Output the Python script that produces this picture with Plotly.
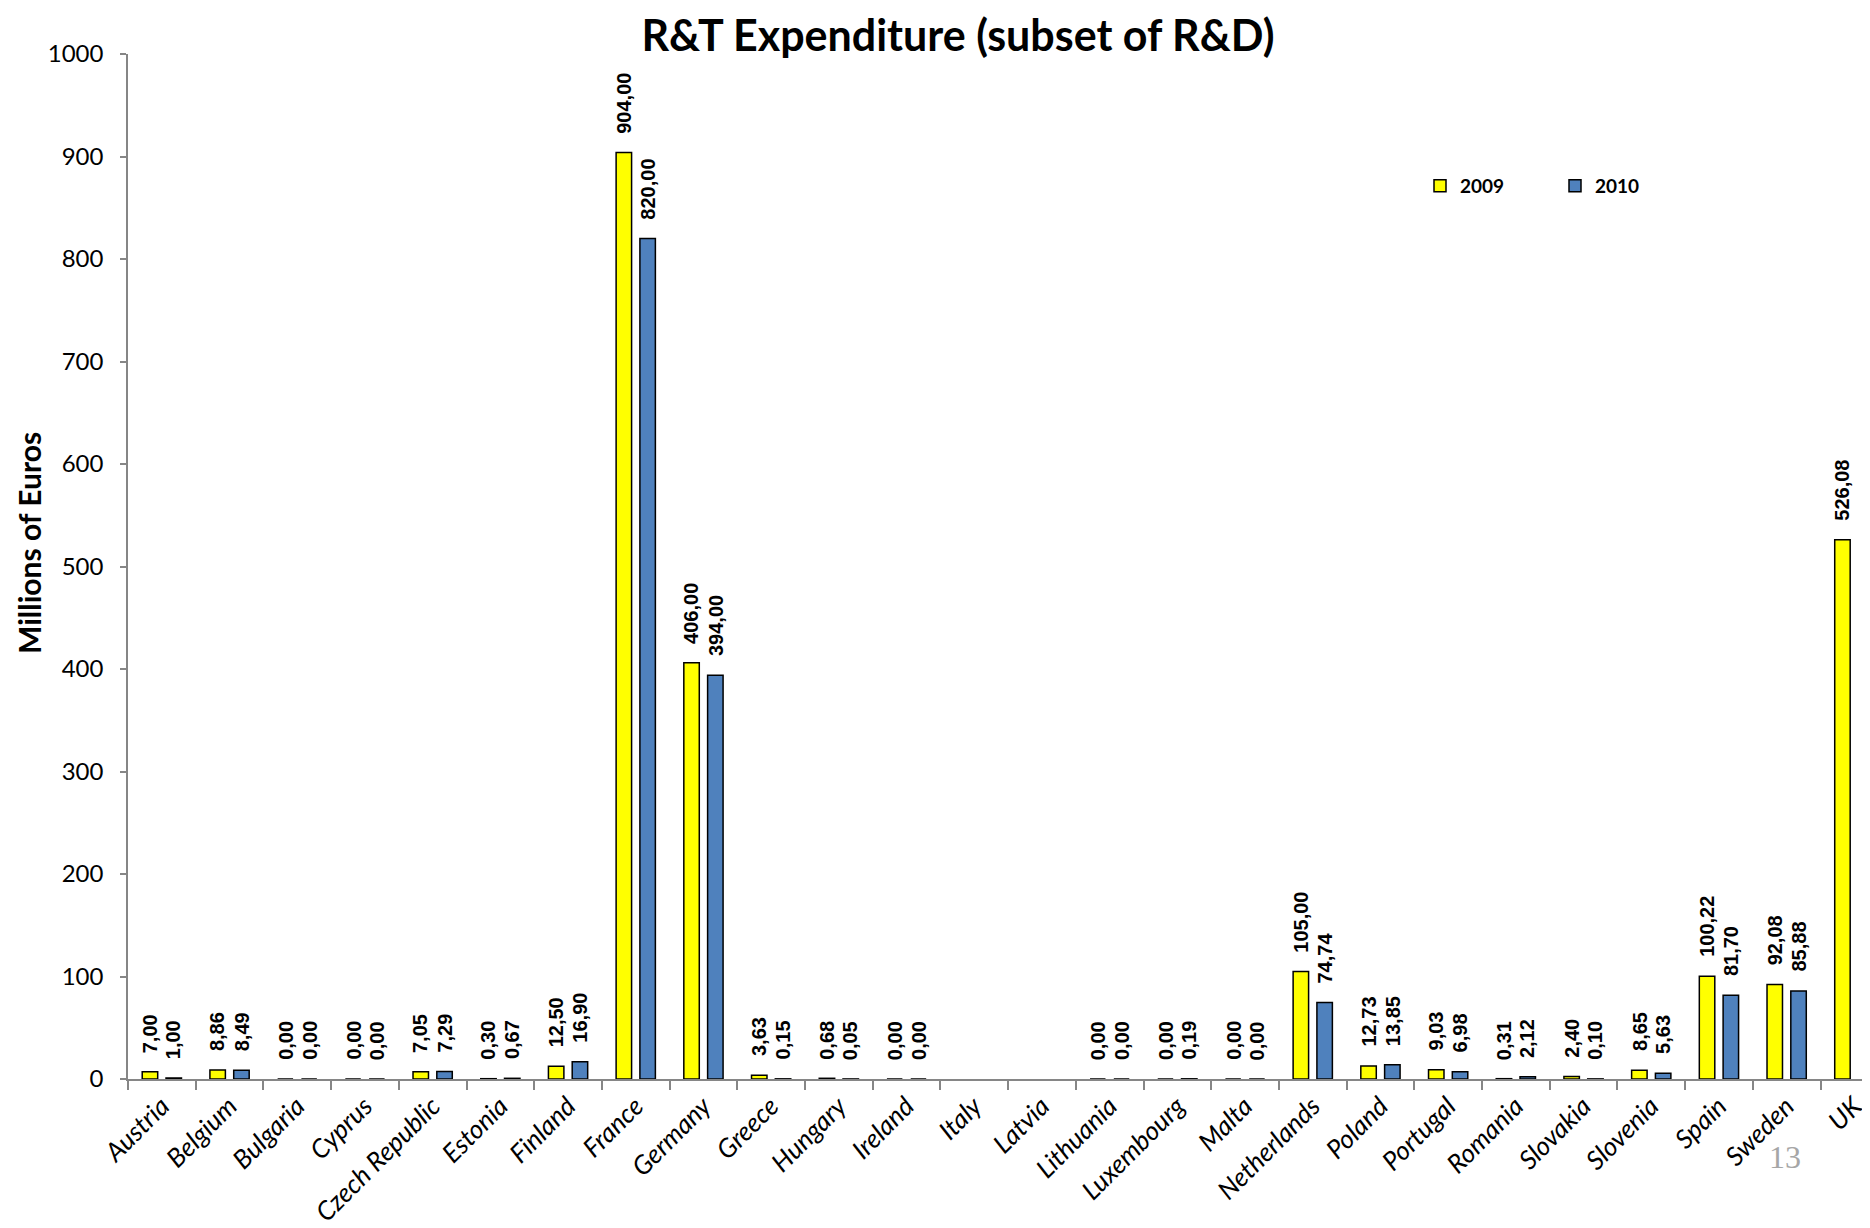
import plotly.graph_objects as go

countries = ["Austria", "Belgium", "Bulgaria", "Cyprus", "Czech Republic", "Estonia", "Finland",
             "France", "Germany", "Greece", "Hungary", "Ireland", "Italy", "Latvia", "Lithuania",
             "Luxembourg", "Malta", "Netherlands", "Poland", "Portugal", "Romania", "Slovakia",
             "Slovenia", "Spain", "Sweden", "UK"]
values_2009 = [7.00, 8.86, 0.00, 0.00, 7.05, 0.30, 12.50, 904.00, 406.00, 3.63, 0.68, 0.00, None, None,
               0.00, 0.00, 0.00, 105.00, 12.73, 9.03, 0.31, 2.40, 8.65, 100.22, 92.08, 526.08]
values_2010 = [1.00, 8.49, 0.00, 0.00, 7.29, 0.67, 16.90, 820.00, 394.00, 0.15, 0.05, 0.00, None, None,
               0.00, 0.19, 0.00, 74.74, 13.85, 6.98, 2.12, 0.10, 5.63, 81.70, 85.88, None]
y_ticks = [0, 100, 200, 300, 400, 500, 600, 700, 800, 900, 1000]

OFF = 8  # page body margin
W, H = 1870 - OFF, 1228 - OFF
ML, MR, MT, MB = 128 - OFF, 0, 54 - OFF, 1228 - 1079
cat_px = 67.7
plot_w = W - ML - MR
plot_h = H - MT - MB
x_max = -0.5 + plot_w / cat_px

CAL = "Lato, 'Open Sans', sans-serif"
ARIALB = "'Liberation Sans', Arial, sans-serif"

def fmt(v):
    return f"{v:.2f}".replace(".", ",")

fig = go.Figure()
fig.add_trace(go.Bar(name="2009", x=countries, y=values_2009,
                     marker=dict(color="#FFFF00", line=dict(color="#000000", width=1.5))))
fig.add_trace(go.Bar(name="2010", x=countries, y=values_2010,
                     marker=dict(color="#4F81BD", line=dict(color="#000000", width=1.5))))

slot = cat_px * (1 - 0.297) / 2
annotations = []
for vals, shift in ((values_2009, -slot / 2), (values_2010, slot / 2)):
    for c, v in zip(countries, vals):
        if v is None:
            continue
        annotations.append(dict(x=c, y=v, xref="x", yref="y", text=fmt(v), textangle=-90,
                                showarrow=False, xanchor="center", yanchor="bottom",
                                xshift=shift, yshift=17,
                                font=dict(family=ARIALB, size=20, color="#000000", weight="bold")))

# y-axis title
annotations.append(dict(x=(29 - 128) / plot_w, y=1 - (543 - 54) / plot_h,
                        xref="paper", yref="paper", text="<b>Millions of Euros</b>",
                        textangle=-90, showarrow=False, xanchor="center", yanchor="middle",
                        font=dict(family=CAL, size=30, color="#000000")))

annotations.append(dict(x=(1785 - OFF - ML) / plot_w, y=1 - (1157 - 54) / plot_h,
                        xref="paper", yref="paper", text="13", showarrow=False,
                        xanchor="center", yanchor="middle",
                        font=dict(family="'Liberation Serif', 'Times New Roman', serif", size=32,
                                  color="#A6A6A6")))

fig.update_layout(
    width=W, height=H,
    margin=dict(l=ML, r=MR, t=MT, b=MB, pad=0),
    paper_bgcolor="white", plot_bgcolor="white",
    barmode="group", bargap=0.297, bargroupgap=0.35,
    title=dict(text="<b>R&T Expenditure (subset of R&D)</b>", x=(958 - OFF) / W, xanchor="center",
               y=1 - (36 - OFF) / H, yanchor="middle",
               font=dict(family=CAL, size=43, color="#000000")),
    showlegend=True,
    legend=dict(orientation="h", x=(1420 - OFF - ML) / plot_w, xanchor="left",
                y=1 - (186 - 54) / plot_h, yanchor="middle",
                entrywidth=90, entrywidthmode="pixels",
                font=dict(family=CAL, size=19, color="#000000", weight="bold"),
                bgcolor="rgba(0,0,0,0)", traceorder="normal"),
    annotations=annotations,
    font=dict(family=CAL, color="#000000"),
)
fig.update_xaxes(range=[-0.5, x_max], showline=True, linecolor="#868686", linewidth=1.5,
                 ticks="outside", ticklen=9, tickcolor="#868686", tickwidth=1.5,
                 tickson="boundaries", tickangle=-45, showgrid=False, zeroline=False,
                 tickfont=dict(family=CAL, size=26, color="#000000", style="italic"))
fig.update_yaxes(range=[0, 1000], tickvals=y_ticks, showline=True, linecolor="#868686",
                 linewidth=1.5, ticks="outside", ticklen=6, tickcolor="#868686", tickwidth=1.5,
                 showgrid=False, zeroline=False, ticklabelstandoff=12,
                 tickfont=dict(family=CAL, size=24, color="#000000"))

fig.write_html("out.html")
